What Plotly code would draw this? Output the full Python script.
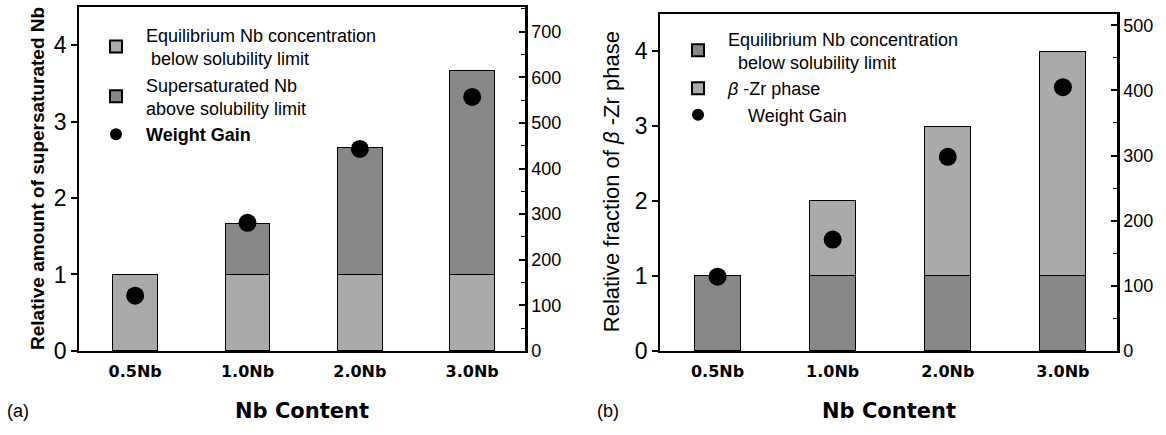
import plotly.graph_objects as go

# ---------------- data ----------------
categories = ["0.5Nb", "1.0Nb", "2.0Nb", "3.0Nb"]

# panel (a)
a_equilibrium = [1.0, 1.0, 1.0, 1.0]
a_supersaturated = [None, 0.667, 1.667, 2.667]
a_weight_gain = [121, 281, 443, 557]

# panel (b)
b_equilibrium = [1.0, 1.0, 1.0, 1.0]
b_beta = [None, 1.0, 2.0, 3.0]
b_weight_gain = [114, 171, 298, 405]

left_ticks = [0, 1, 2, 3, 4]
a_right_ticks = [0, 100, 200, 300, 400, 500, 600, 700]
b_right_ticks = [0, 100, 200, 300, 400, 500]

# ---------------- style ----------------
FONT = "Liberation Sans, Arial, Helvetica, sans-serif"
BOLDFONT = "DejaVu Sans, Liberation Sans, Arial, sans-serif"
LIGHT = "#aaaaaa"
DARK = "#878787"
W, H = 1166, 435

fig = go.Figure()

# panel (a)
fig.add_trace(go.Bar(x=categories, y=a_equilibrium, width=0.4,
                     name="Equilibrium Nb concentration<br> below solubility limit",
                     marker=dict(color=LIGHT, line=dict(color="black", width=1)),
                     xaxis="x", yaxis="y", legend="legend"))
fig.add_trace(go.Bar(x=categories, y=a_supersaturated, width=0.4,
                     name="Supersaturated Nb<br>above solubility limit",
                     marker=dict(color=DARK, line=dict(color="black", width=1)),
                     xaxis="x", yaxis="y", legend="legend"))
fig.add_trace(go.Scatter(x=categories, y=a_weight_gain, mode="markers",
                         name="<b>Weight Gain</b>",
                         marker=dict(color="black", size=18),
                         xaxis="x", yaxis="y2", legend="legend"))

# panel (b)
fig.add_trace(go.Bar(x=categories, y=b_equilibrium, width=0.4,
                     name="Equilibrium Nb concentration<br>  below solubility limit",
                     marker=dict(color=DARK, line=dict(color="black", width=1)),
                     xaxis="x2", yaxis="y3", legend="legend2"))
fig.add_trace(go.Bar(x=categories, y=b_beta, width=0.4,
                     name="<i>β</i> -Zr phase",
                     marker=dict(color=LIGHT, line=dict(color="black", width=1)),
                     xaxis="x2", yaxis="y3", legend="legend2"))
fig.add_trace(go.Scatter(x=categories, y=b_weight_gain, mode="markers",
                         name="    Weight Gain",
                         marker=dict(color="black", size=18),
                         xaxis="x2", yaxis="y4", legend="legend2"))

ydom_a = [(H - 361.7) / H, 1 - 7.3 / H]
ydom_b = [(H - 361.7) / H, 1 - 14 / H]
xdom_a = [79 / W, 525 / W]
xdom_b = [660 / W, 1117 / W]

xcommon = dict(type="category", range=[-0.5, 3.47], showline=True, linecolor="black",
               linewidth=1.5, mirror=True, ticks="", showgrid=False, zeroline=False,
               tickfont=dict(family=BOLDFONT, size=16, color="black", weight="bold"),
               ticklabelstandoff=5)
yleft = dict(range=[0, 4.5], tickvals=left_ticks, ticks="outside", ticklen=6,
             tickwidth=1.5, tickcolor="black", showline=True, linecolor="black",
             linewidth=1.5, showgrid=False, zeroline=False,
             tickfont=dict(family=FONT, size=23, color="black"))
yright = dict(side="right", ticks="inside", ticklen=6, tickwidth=1.5, tickcolor="black",
              showline=True, linecolor="black", linewidth=2.5, showgrid=False,
              zeroline=False, tickfont=dict(family=FONT, size=18, color="black"),
              minor=dict(dtick=50, ticks="inside", ticklen=4, tickcolor="black",
                         tickwidth=1.2, showgrid=False))

legend_common = dict(xanchor="left", yanchor="top", bgcolor="rgba(0,0,0,0)",
                     font=dict(family=FONT, size=18, color="black"),
                     traceorder="normal", itemwidth=50, tracegroupgap=0,
                     itemsizing="constant")

fig.update_layout(
    width=W, height=H,
    margin=dict(l=0, r=0, t=0, b=0),
    paper_bgcolor="white", plot_bgcolor="white",
    barmode="stack",
    font=dict(family=FONT, color="black"),
    xaxis=dict(domain=xdom_a, anchor="y", **xcommon),
    yaxis=dict(domain=ydom_a, anchor="x", **yleft),
    yaxis2=dict(overlaying="y", anchor="x", range=[0, 754], tickvals=a_right_ticks, **yright),
    xaxis2=dict(domain=xdom_b, anchor="y3", **xcommon),
    yaxis3=dict(domain=ydom_b, anchor="x2", **yleft),
    yaxis4=dict(overlaying="y3", anchor="x2", range=[0, 518], tickvals=b_right_ticks, **yright),
    legend=dict(x=86 / W, y=1 - 17 / H, **legend_common),
    legend2=dict(x=668 / W, y=1 - 21 / H, **legend_common),
    annotations=[
        dict(text="Relative amount of supersaturated Nb", textangle=-90,
             x=38 / W, xref="paper", xanchor="center",
             y=0.5, yref="y domain", yanchor="middle", showarrow=False,
             font=dict(family=FONT, size=19, color="black", weight="bold")),
        dict(text="Relative fraction of <i>β</i> -Zr phase", textangle=-90,
             x=611 / W, xref="paper", xanchor="center",
             y=0.5, yref="y3 domain", yanchor="middle", showarrow=False,
             font=dict(family=FONT, size=22, color="black")),
        dict(text="Nb Content", x=0.5, xref="x domain", y=11 / H, yref="paper",
             xanchor="center", yanchor="middle", showarrow=False,
             font=dict(family=BOLDFONT, size=21, color="black", weight="bold")),
        dict(text="Nb Content", x=0.5, xref="x2 domain", y=11 / H, yref="paper",
             xanchor="center", yanchor="middle", showarrow=False,
             font=dict(family=BOLDFONT, size=21, color="black", weight="bold")),
        dict(text="(a)", x=5 / W, y=11 / H, xref="paper", yref="paper",
             xanchor="left", yanchor="middle", showarrow=False,
             font=dict(family=FONT, size=18, color="black")),
        dict(text="(b)", x=595 / W, y=11 / H, xref="paper", yref="paper",
             xanchor="left", yanchor="middle", showarrow=False,
             font=dict(family=FONT, size=18, color="black")),
    ],
)

fig.write_html("out.html")
